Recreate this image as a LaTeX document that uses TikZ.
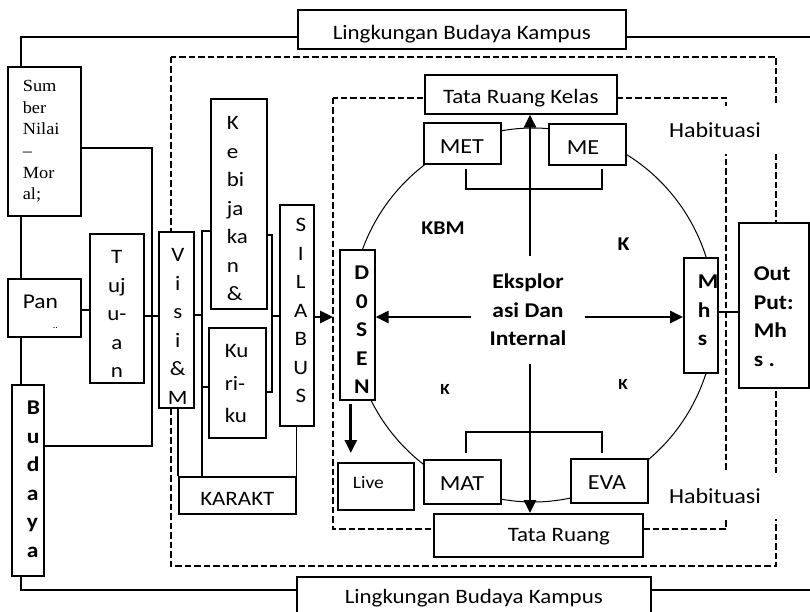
\documentclass[tikz,border=0pt]{standalone}
\usepackage{fontspec}
\setmainfont{Carlito}[FakeStretch=1.12]
\newfontfamily\tnr{Liberation Serif}[FakeStretch=1.08]
\usetikzlibrary{arrows.meta,positioning}

% isi kotak: lebar, tinggi, baseline baris pertama, leftskip, teks
\newcommand{\isi}[5]{\parbox[c][#2][t]{#1}{\centering\leftskip=#4\relax\rule{0pt}{#3}#5}}

\begin{document}
\begin{tikzpicture}[x=1pt,y=-1pt,
	kotak/.style={draw, line width=1.6pt, fill=white, inner sep=0pt, anchor=north west},
	garis/.style={line width=1.3pt},
	putus/.style={line width=1.8pt, dash pattern=on 6.5pt off 3pt},
	panah/.style={line width=2.8pt, -{Triangle[length=13pt,width=12pt]}},
	teks/.style={font=\fontsize{20.5}{28.5}\selectfont},
	tebal/.style={font=\bfseries\fontsize{21}{28.5}\selectfont}]
	\useasboundingbox (0,0) rectangle (810,612);
	% bingkai dan garis putus-putus
	\draw[line width=1.6pt] (812,37) -| (21,590) -- (812,590);
	\draw[putus] (171,57) rectangle (776,566);
	\draw[putus] (333,98) rectangle (726,529);
	\draw[line width=1pt] (533,315) ellipse [x radius=182pt, y radius=187pt];
	% kotak-kotak
	\node[kotak, teks] (lingatas) at (297,9) {\isi{328pt}{39pt}{30pt}{0pt plus 1fil}{Lingkungan Budaya Kampus}};
	\node[kotak, teks] (lingbawah) at (296,576) {\isi{354pt}{50pt}{27pt}{0pt plus 1fil}{Lingkungan Budaya Kampus}};
	\node[kotak, font=\tnr\fontsize{17}{21.6}\selectfont] (sumber) at (7,66) {\isi{73pt}{149pt}{25pt}{15pt}{Sum\\ber\\Nilai\\–\\Mor\\al;}};
	\node[kotak, font=\fontsize{21}{28.5}\selectfont] (pan) at (7,278) {\isi{73pt}{58pt}{30pt}{15pt}{Pan\\[-9pt]\hspace*{30pt}{\fontsize{9}{9}\selectfont ..}}};
	\node[kotak, tebal] (budaya) at (11,384) {\isi{32pt}{191pt}{30pt}{15pt}{B\\u\\d\\a\\y\\a}};
	\node[kotak, teks] (tujuan) at (89,233) {\isi{54pt}{149pt}{30pt}{0pt plus 1fil}{T\\uj\\u-\\a\\n}};
	\node[kotak, teks] (visi) at (158,231) {\isi{35pt}{176pt}{30pt}{3pt plus 1fil}{V\\i\\s\\i\\\&\\M}};
	\node[kotak, teks] (kebijakan) at (210,98) {\isi{56pt}{210pt}{31pt}{16pt}{K\\e\\bi\\ja\\ka\\n\\\&}};
	\node[kotak, font=\fontsize{20.5}{32.5}\selectfont] (kurikulum) at (208,327) {\isi{57pt}{110pt}{30pt}{16pt}{Ku\\ri-\\ku}};
	\node[kotak, teks] (silabus) at (279,204) {\isi{34pt}{221pt}{27pt}{8pt plus 1fil}{S\\I\\L\\A\\B\\U\\S}};
	\node[kotak, teks] (karakter) at (178,476) {\isi{117pt}{37pt}{29pt}{0pt plus 1fil}{KARAKT}};
	\node[kotak, tebal] (dosen) at (339,249) {\isi{35pt}{150pt}{30pt}{9pt plus 1fil}{D\\0\\S\\E\\N}};
	\node[kotak, font=\fontsize{17.5}{21}\selectfont] (live) at (337,462) {\isi{76pt}{47pt}{26pt}{15pt}{Live}};
	\node[kotak, teks] (tatakelas) at (424,74) {\isi{192pt}{39pt}{29pt}{0pt plus 1fil}{Tata Ruang Kelas}};
	\node[kotak, teks] (taturuang) at (433,513) {\isi{209pt}{43pt}{28pt}{74pt}{Tata Ruang}};
	\node[kotak, font=\fontsize{21.5}{28.5}\selectfont] (met) at (423,122) {\isi{77pt}{41pt}{30.5pt}{16pt}{MET}};
	\node[kotak, font=\fontsize{21.5}{28.5}\selectfont] (me) at (548,123) {\isi{77pt}{41pt}{30.3pt}{18pt}{ME}};
	\node[kotak, font=\fontsize{21.5}{28.5}\selectfont] (mat) at (423,459) {\isi{77pt}{44pt}{30.3pt}{16pt}{MAT}};
	\node[kotak, font=\fontsize{21.5}{28.5}\selectfont] (eva) at (570,458) {\isi{77pt}{44pt}{31pt}{17pt}{EVA}};
	\node[kotak, tebal] (mhs) at (683,257) {\isi{34pt}{115pt}{31pt}{14pt}{M\\h\\s}};
	\node[kotak, tebal] (output) at (738,222) {\isi{70pt}{165pt}{58pt}{15pt}{Out\\Put:\\Mh\\s .}};
	% penghubung kiri
	\coordinate (busatas) at (152,148);
	\coordinate (busbawah) at (152,446);
	\draw[garis] (sumber.east |- busatas) -- (busatas) -- (busbawah) -- (budaya.east |- busbawah);
	\draw[garis] (pan.east |- 0,310) -- (tujuan.west |- 0,310);
	\draw[garis] (tujuan.east |- 0,316) -- (visi.west |- 0,316);
	\coordinate (kurungkiri) at (202,231);
	\draw[garis] (kebijakan.west |- kurungkiri) -- (kurungkiri) -- (kurungkiri |- karakter.north);
	\draw[garis] (visi.east |- 0,315) -- (kurungkiri |- 0,315);
	\draw[garis] (kurungkiri |- 0,387) -- (kurikulum.west |- 0,387);
	\draw[garis] (karakter.north west) -- (karakter.north west |- visi.south);
	\coordinate (kurungkanan) at (272,235);
	\draw[garis] (kebijakan.east |- kurungkanan) -- (kurungkanan) -- (kurungkanan |- 0,392) -- (kurikulum.east |- 0,392);
	\draw[garis] (kurungkanan |- 0,316) -- (silabus.west |- 0,316);
	\draw[garis] (karakter.north east) -- (karakter.north east |- silabus.south);
	\draw[panah, shorten >=6pt] (silabus.east |- 0,317) -- (dosen.west |- 0,317);
	\draw[panah, shorten <=3pt, shorten >=9pt] ([xshift=-6.5pt]dosen.south) -- ([xshift=-6.5pt]dosen.south |- live.north);
	% tengah lingkaran
	\node[tebal, align=center, inner sep=18pt] (eksplor) at (528,310) {Eksplor\\asi Dan\\Internal};
	\coordinate (tengah) at (530,317);
	\draw[garis, shorten <=4pt, shorten >=3pt] (met.south -| 466,0) |- (533,189) -| (me.south -| 602,0);
	\draw[garis, shorten <=6pt, shorten >=5pt] (mat.north -| 466,0) |- (533,432) -| (eva.north -| 602,0);
	\draw[panah] (eksplor.north -| tengah) -- (tatakelas.south -| tengah);
	\draw[panah] (eksplor.south -| tengah) -- (taturuang.north -| tengah);
	\draw[panah] (eksplor.west |- tengah) -- (dosen.east |- tengah);
	\draw[panah] (eksplor.east |- tengah) -- (mhs.west |- tengah);
	\draw[garis] (mhs.east |- 0,312) -- (output.west |- 0,312);
	\node[font=\bfseries\fontsize{19.5}{20}\selectfont] (kbm) at (443,228) {KBM};
	\node[font=\bfseries\fontsize{19.5}{20}\selectfont] (katas) at (623.5,244) {K};
	\node[font=\bfseries\fontsize{15.5}{16}\selectfont] (kbawahkiri) at (445,389) {K};
	\node[font=\bfseries\fontsize{15.5}{16}\selectfont] (kbawahkanan) at (623,384) {K};
	% habituasi
	\node[fill=white, inner sep=0pt, minimum width=130pt, minimum height=48pt, font=\fontsize{21.5}{22}\selectfont] (habatas) at (715,130) {Habituasi};
	\node[fill=white, inner sep=0pt, minimum width=130pt, minimum height=46pt, font=\fontsize{21.5}{22}\selectfont] (habbawah) at (715,496) {Habituasi};
\end{tikzpicture}
\end{document}
